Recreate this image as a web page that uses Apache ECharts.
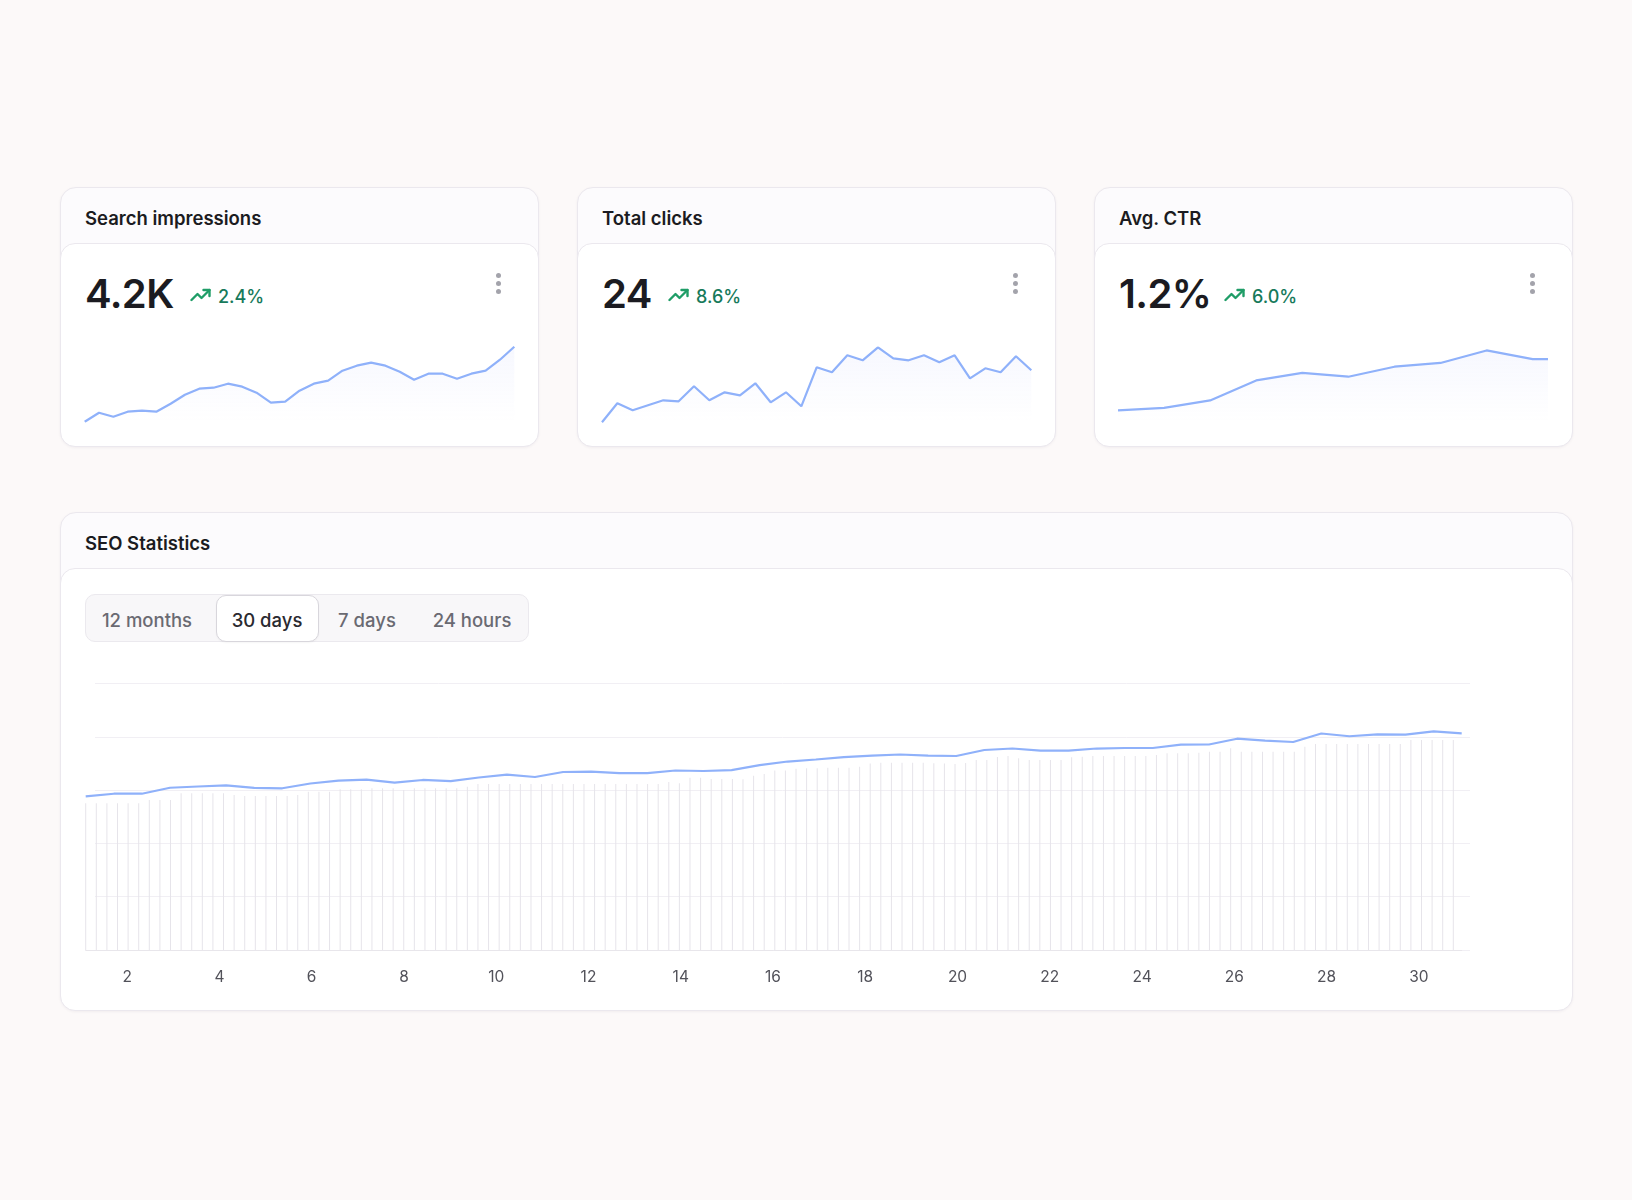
<!DOCTYPE html>
<html>
<head>
<meta charset="utf-8">
<script src="https://cdn.jsdelivr.net/npm/echarts@6/dist/echarts.min.js"></script>
<style>
html,body{margin:0;padding:0;background:#fcf9f9;}
body{width:1632px;height:1200px;position:relative;overflow:hidden;font-family:Inter,'Noto Sans',sans-serif;}
.card{position:absolute;box-sizing:border-box;border:1px solid #ebe8ee;border-radius:16px;background:#fcfbfd;box-shadow:0 1px 3px rgba(30,20,60,0.05);}
.card .body{position:absolute;left:-1px;right:-1px;bottom:-1px;border:1px solid #ebe8ee;border-radius:15px;background:#fff;}
.title{position:absolute;font-size:18.5px;font-weight:600;color:#1b1b21;line-height:24px;white-space:nowrap;}
.num{position:absolute;font-size:40px;font-weight:600;color:#1b1b21;line-height:48px;letter-spacing:-0.6px;white-space:nowrap;}
.trend{position:absolute;font-size:18px;font-weight:500;color:#177a5b;line-height:24px;white-space:nowrap;}
.icon{position:absolute;width:22px;height:14px;}
.dot{position:absolute;width:5px;height:5px;border-radius:50%;background:#a3a3ab;}
.seg{position:absolute;box-sizing:border-box;border:1px solid #ebe9ee;border-radius:10px;background:#f8f7f9;}
.segsel{position:absolute;box-sizing:border-box;border:1px solid #d8d6dc;border-radius:10px;background:#fff;box-shadow:0 1px 2px rgba(0,0,0,0.04);}
.segtxt{position:absolute;font-size:18.5px;font-weight:500;line-height:24px;color:#6a6a72;white-space:nowrap;transform:translateX(-50%);}
#chart{position:absolute;left:0;top:0;width:1632px;height:1200px;}
</style>
</head>
<body>
<!-- KPI cards -->
<div class="card" style="left:60px;top:187px;width:479px;height:260px;"><div class="body" style="top:55px;"></div></div>
<div class="card" style="left:577px;top:187px;width:479px;height:260px;"><div class="body" style="top:55px;"></div></div>
<div class="card" style="left:1094px;top:187px;width:479px;height:260px;"><div class="body" style="top:55px;"></div></div>
<div class="title" style="left:85px;top:206px;">Search impressions</div>
<div class="title" style="left:602px;top:206px;">Total clicks</div>
<div class="title" style="left:1119px;top:206px;">Avg. CTR</div>

<div class="num" style="left:85px;top:270px;">4.2K</div>
<div class="num" style="left:602px;top:270px;">24</div>
<div class="num" style="left:1119px;top:270px;">1.2%</div>

<svg class="icon" style="left:190px;top:288px;" viewBox="0 0 22 14"><polyline points="1.5,12 7.5,6 11.5,10 19.5,2" fill="none" stroke="#1f9d67" stroke-width="2.4" stroke-linecap="round" stroke-linejoin="round"/><polyline points="13.5,2 19.5,2 19.5,8" fill="none" stroke="#1f9d67" stroke-width="2.4" stroke-linecap="round" stroke-linejoin="round"/></svg>
<svg class="icon" style="left:668px;top:288px;" viewBox="0 0 22 14"><polyline points="1.5,12 7.5,6 11.5,10 19.5,2" fill="none" stroke="#1f9d67" stroke-width="2.4" stroke-linecap="round" stroke-linejoin="round"/><polyline points="13.5,2 19.5,2 19.5,8" fill="none" stroke="#1f9d67" stroke-width="2.4" stroke-linecap="round" stroke-linejoin="round"/></svg>
<svg class="icon" style="left:1224px;top:288px;" viewBox="0 0 22 14"><polyline points="1.5,12 7.5,6 11.5,10 19.5,2" fill="none" stroke="#1f9d67" stroke-width="2.4" stroke-linecap="round" stroke-linejoin="round"/><polyline points="13.5,2 19.5,2 19.5,8" fill="none" stroke="#1f9d67" stroke-width="2.4" stroke-linecap="round" stroke-linejoin="round"/></svg>
<div class="trend" style="left:218px;top:285px;">2.4%</div>
<div class="trend" style="left:696px;top:285px;">8.6%</div>
<div class="trend" style="left:1252px;top:285px;">6.0%</div>

<div class="dot" style="left:496px;top:272.5px;"></div><div class="dot" style="left:496px;top:280.5px;"></div><div class="dot" style="left:496px;top:288.5px;"></div>
<div class="dot" style="left:1013px;top:272.5px;"></div><div class="dot" style="left:1013px;top:280.5px;"></div><div class="dot" style="left:1013px;top:288.5px;"></div>
<div class="dot" style="left:1530px;top:272.5px;"></div><div class="dot" style="left:1530px;top:280.5px;"></div><div class="dot" style="left:1530px;top:288.5px;"></div>

<!-- SEO statistics card -->
<div class="card" style="left:60px;top:512px;width:1513px;height:499px;"><div class="body" style="top:55px;"></div></div>
<div class="title" style="left:85px;top:531px;">SEO Statistics</div>
<div class="seg" style="left:85px;top:594px;width:444px;height:48px;"></div>
<div class="segsel" style="left:216px;top:594.5px;width:103px;height:47px;"></div>
<div class="segtxt" style="left:147px;top:608px;">12 months</div>
<div class="segtxt" style="left:267px;top:608px;color:#2a2a30;">30 days</div>
<div class="segtxt" style="left:367px;top:608px;">7 days</div>
<div class="segtxt" style="left:472px;top:608px;">24 hours</div>

<div id="chart"></div>
<script>
// ---- Data ----
const dayLabels = ['1','2','3','4','5','6','7','8','9','10','11','12','13','14','15','16','17','18','19','20','21','22','23','24','25','26','27','28','29','30','31'];
const impressions = [100,109,105,110,111,110,118,127,133,134,138,135,129,119,120,131,138,141,151,156,159,156,150,142,148,148,143,148,151,162,175];
const clicks = [0,19,12,17,22,21,36,22,30,27,39,20,30,16,55,50,67,62,75,64,62,67,60,67,44,54,50,66,52];
const ctr = [0.99,null,null,1.01,null,null,1.07,null,null,1.23,null,null,1.29,null,null,1.26,null,null,1.34,null,null,1.37,null,null,1.47,null,null,1.40,1.40];
const seoLine = [144.2,146.6,146.6,152.2,153.4,154.5,152.0,151.7,156.2,158.8,
  159.9,157.1,159.5,158.5,161.8,164.6,162.3,167.0,167.4,166.0,
  166.0,168.4,167.9,168.8,173.5,176.8,178.7,181.0,182.4,183.4,
  182.4,182.0,187.6,189.0,187.1,187.1,189.0,189.5,189.5,192.6,
  192.8,198.2,196.5,195.1,203.1,200.5,202.3,202.0,205.1,203.3];
const seoBars = [137.6,137.6,137.6,137.6,137.6,137.6,140.7,140.7,140.7,147.0,
  147.0,147.0,147.0,147.0,145.4,144.5,144.5,144.5,144.5,144.5,
  145.4,148.5,148.5,148.5,150.7,150.7,150.7,151.7,151.7,151.7,
  150.1,151.7,151.7,151.7,151.7,151.7,153.2,155.7,155.7,155.7,
  155.7,155.7,155.7,155.7,155.7,155.7,155.7,155.7,155.7,155.7,
  155.7,155.7,155.7,155.7,155.7,157.5,156.4,161.5,161.5,160.3,
  160.3,160.3,160.1,163.5,165.1,168.5,168.5,170.0,170.5,170.5,
  171.0,171.0,171.0,172.0,175.0,175.7,175.7,175.7,175.7,175.7,
  175.1,175.0,174.5,175.5,178.2,178.2,181.0,182.0,179.8,178.2,
  178.2,178.2,178.2,180.8,181.3,182.0,182.0,182.0,182.0,182.0,
  182.0,182.9,184.5,184.5,184.5,185.1,186.0,186.0,189.2,186.0,
  186.0,186.0,186.0,186.0,186.0,190.7,193.2,193.2,193.2,193.2,
  193.2,193.2,193.2,193.2,193.2,197.0,197.0,197.0,197.0,197.0];
const seoTicks = [0,50,100,150,200,250];

// ---- Chart ----
const chart = echarts.init(document.getElementById('chart'), null, {renderer:'canvas', width:1632, height:1200});
const lineColor = '#8fb1fa';
function slots(n){ return Array.from({length:n}, (_, i) => String(i)); }
function grad(){ return new echarts.graphic.LinearGradient(0,0,0,1,[{offset:0,color:'rgba(140,155,250,0.10)'},{offset:1,color:'rgba(140,155,250,0)'}]); }
function hiddenCat(gi, n){ return {gridIndex:gi, type:'category', data:slots(n), boundaryGap:false, show:false}; }

const option = {
  animation:false,
  grid:[
    {left:84.7, top:346.7, width:429.6, height:75},
    {left:602, top:347.3, width:429.3, height:75},
    {left:1118, top:346.7, width:430, height:75},
    {left:81, top:683.5, width:1384, height:266.5},
    {left:95, top:683.5, width:1375, height:266.5},
    {left:85.7, top:683.5, width:1376, height:266.5},
    {left:85.7, top:683.5, width:1367.6, height:266.5}
  ],
  xAxis:[
    hiddenCat(0, impressions.length),
    hiddenCat(1, clicks.length),
    hiddenCat(2, ctr.length),
    {gridIndex:3, type:'category', data:dayLabels, boundaryGap:false,
      axisLine:{show:false}, axisTick:{show:false}, splitLine:{show:false},
      axisLabel:{interval:function(i){ return i % 2 === 1; }, color:'#52525a', fontSize:15.5, fontFamily:'Inter', margin:19}},
    {gridIndex:4, type:'value', min:0, max:1, show:false},
    {gridIndex:5, type:'category', data:slots(seoLine.length), boundaryGap:false,
      axisLine:{show:true, lineStyle:{color:'#e8e6eb', width:1}}, axisTick:{show:false}, axisLabel:{show:false}, splitLine:{show:false}},
    hiddenCat(6, seoBars.length)
  ],
  yAxis:[
    {gridIndex:0, type:'value', min:100, max:175, show:false},
    {gridIndex:1, type:'value', min:0, max:75, show:false},
    {gridIndex:2, type:'value', min:0.9, max:1.5, show:false},
    {gridIndex:3, type:'value', min:0, max:1, show:false},
    {gridIndex:4, type:'value', min:seoTicks[0], max:seoTicks[seoTicks.length-1], interval:seoTicks[1]-seoTicks[0],
      axisLine:{show:false}, axisTick:{show:false}, axisLabel:{show:false},
      splitLine:{show:true, lineStyle:{color:'#f1eff4', width:1}}},
    {gridIndex:5, type:'value', min:0, max:250, show:false},
    {gridIndex:6, type:'value', min:0, max:250, show:false}
  ],
  series:[
    {type:'line', xAxisIndex:0, yAxisIndex:0, data:impressions, symbol:'none', silent:true,
      lineStyle:{color:lineColor, width:2.2}, areaStyle:{color:grad()}},
    {type:'line', xAxisIndex:1, yAxisIndex:1, data:clicks, symbol:'none', silent:true,
      lineStyle:{color:lineColor, width:2.2}, areaStyle:{color:grad()}},
    {type:'line', xAxisIndex:2, yAxisIndex:2, data:ctr, symbol:'none', connectNulls:true, silent:true,
      lineStyle:{color:lineColor, width:2.2}, areaStyle:{color:grad()}},
    {type:'bar', xAxisIndex:6, yAxisIndex:6, data:seoBars, barWidth:1, silent:true,
      itemStyle:{color:'#e6e4ea'}},
    {type:'line', xAxisIndex:5, yAxisIndex:5, data:seoLine, symbol:'none', silent:true,
      lineStyle:{color:lineColor, width:2.2}}
  ]
};
chart.setOption(option);
</script>
</body>
</html>
